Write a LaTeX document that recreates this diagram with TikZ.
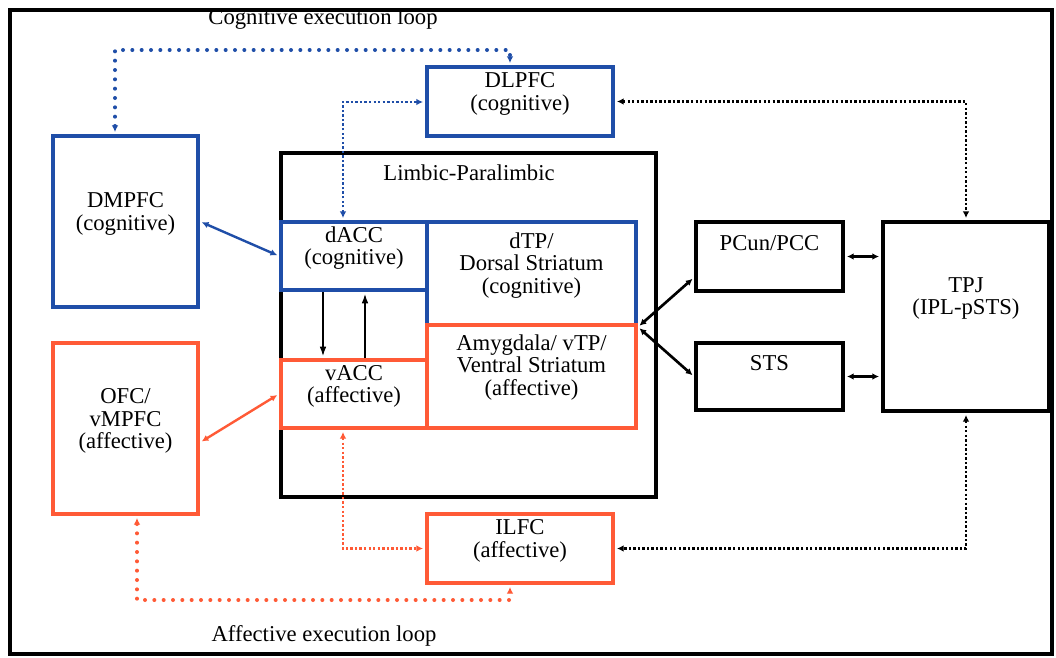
\documentclass[tikz,border=0pt]{standalone}
\usepackage{fontspec}
\setmainfont{Liberation Serif}
\usetikzlibrary{arrows.meta,calc,fit}
\definecolor{cogblue}{HTML}{1F4EA8}
\definecolor{affred}{HTML}{FF5A36}
\begin{document}
\begin{tikzpicture}[x=0.75pt,y=-0.75pt,
    font=\fontsize{17}{16.9}\selectfont,
    box/.style={draw, line width=3pt, inner sep=0pt, align=center},
    cogbox/.style={box, draw=cogblue},
    affbox/.style={box, draw=affred},
    twoway/.style={{Latex[length=5pt,width=5pt]}-{Latex[length=5pt,width=5pt]},
        shorten <=1.5pt, shorten >=1.5pt},
    oneway/.style={-{Latex[length=7pt,width=5pt]}, shorten >=1.5pt, line width=0.9pt},
    sparse/.style={twoway, line width=3pt, line cap=round, dash pattern=on 0pt off 7pt},
    dense/.style={twoway, line width=1.8pt, dash pattern=on 1.8pt off 1.6pt}
]
\fill[white] (0,0) rectangle (1056,657);
\useasboundingbox (0,0) rectangle (1056,657);
\draw[line width=3.5pt] (10,10) rectangle (1052,654);

\node (coglabel) at (323,19) {Cognitive execution loop};
\node (afflabel) at (324,636) {Affective execution loop};

% prefrontal boxes
\node[cogbox, fit={(427,67)(613,136)}] (DLPFC) {DLPFC\\(cognitive)};
\node[cogbox, fit={(53,136)(198,307)},
    label={[align=center,yshift=5.6pt]center:DMPFC\\(cognitive)}] (DMPFC) {};
\node[affbox, fit={(53,343)(198,514)}] (OFC) {OFC/\\vMPFC\\(affective)};
\node[affbox, fit={(427,514)(613,583)}] (ILFC) {ILFC\\(affective)};

% limbic-paralimbic
\node[box, fit={(281,153)(656,497)}] (limbic) {};
\node (limbiclabel) at (469,173) {Limbic-Paralimbic};
\node[cogbox, fit={(281,222)(427,290)}] (dACC) {dACC\\(cognitive)};
\node[cogbox, fit={(427,222)(636,325)},
    label={[align=center,yshift=6pt]center:dTP/\\Dorsal Striatum\\(cognitive)}] (dTP) {};
\node[affbox, fit={(281,360)(427,428)}] (vACC) {vACC\\(affective)};
\node[affbox, fit={(427,325)(636,428)},
    label={[align=center,yshift=6.8pt]center:Amygdala/ vTP/\\Ventral Striatum\\(affective)}] (amyg) {};

% posterior
\node[box, fit={(696,222)(843,291)},
    label={[yshift=9.75pt]center:PCun/PCC}] (PCun) {};
\node[box, fit={(696,343)(843,410)},
    label={[yshift=9.75pt]center:STS}] (STS) {};
\node[box, fit={(883,222)(1049,411)},
    label={[align=center,yshift=13.5pt]center:TPJ\\(IPL-pSTS)}] (TPJ) {};

% loops
\coordinate (cogL) at (115,50);
\coordinate (cogR) at (510,50);
\coordinate (dlbend) at (343,102);
\coordinate (affL) at (137,600);
\coordinate (affR) at (510,600);
\draw[sparse, cogblue] (DMPFC.north -| cogL) -- (cogL) -- (cogR) -- (DLPFC.north -| cogR);
\draw[dense, cogblue] (dACC.north -| dlbend) -- (dlbend) -- (DLPFC.west |- dlbend);
\draw[dense] (DLPFC.east) -| (TPJ.north);
\draw[dense] (TPJ.south) |- (ILFC.east);
\draw[dense, affred] (vACC.south -| dlbend) |- (ILFC.west);
\draw[sparse, affred] (OFC.south -| affL) -- (affL) -- (affR) -- (ILFC.south -| affR);

% solid links
\draw[twoway, cogblue, line width=1.8pt] (DMPFC.east) -- (dACC.west);
\draw[twoway, affred, line width=1.8pt] (vACC.west) -- ($(OFC.east)+(0,14)$);
\draw[oneway] ($(dACC.south)+(-31,0)$) -- ($(vACC.north)+(-31,0)$);
\draw[oneway] ($(vACC.north)+(11,0)$) -- ($(dACC.south)+(11,0)$);
\draw[twoway, line width=2pt] (dTP.south east) -- ($(PCun.west)+(0,21)$);
\draw[twoway, line width=2pt] (dTP.south east) -- (STS.west);
\draw[twoway, line width=1.6pt] (PCun.east) -- (PCun.east -| TPJ.west);
\draw[twoway, line width=1.6pt] (STS.east) -- (STS.east -| TPJ.west);
\end{tikzpicture}
\end{document}
